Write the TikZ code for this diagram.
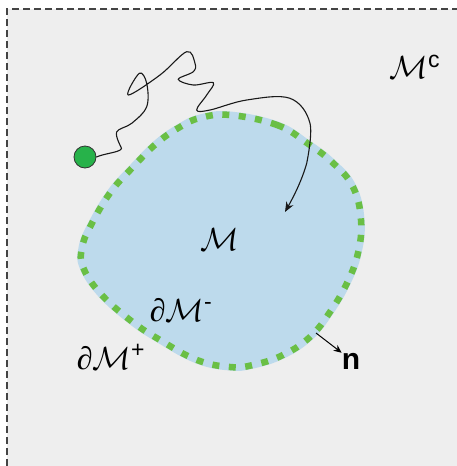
\RequirePackage{fix-cm}
\documentclass[tikz,border=0pt]{standalone}
\usepackage{fontspec}
\newfontfamily\arialf{Liberation Sans}
\newfontfamily\timesf{Liberation Serif}
\usetikzlibrary{arrows.meta}
\definecolor{bgray}{HTML}{EEEEEE}
\definecolor{blobblue}{HTML}{BDDAEC}
\definecolor{dashgreen}{HTML}{6ABF45}
\definecolor{dotgreen}{HTML}{27B24A}
\definecolor{frame}{HTML}{444444}
\newcommand{\supsf}[1]{\mbox{\arialf\fontsize{23}{23}\selectfont #1}}
\newcommand{\pd}{\mbox{\timesf ∂}}
\tikzset{
  lbl/.style={inner sep=0pt, font=\fontsize{32}{36}\selectfont},
  walk/.style={black!90, line width=1.1pt},
}
\begin{document}
\begin{tikzpicture}[x=1pt,y=-1pt]
\useasboundingbox (0,0) rectangle (457,466);
\fill[bgray] (7,9) rectangle (457,466);
\draw[frame, line width=1.2pt, dash pattern=on 7pt off 4pt] (7,466) -- (7,9) -- (457,9);
% region M
\def\blobpath{plot[smooth cycle, tension=0.7] coordinates {
 (230,115) (277,125) (307,143) (333,163) (353,187) (361,220) (358,253)
 (347,283) (330,312) (310,337) (283,355) (253,365) (230,367) (197,360)
 (160,340) (130,320) (100,293) (83,267) (82,248) (90,227) (110,193)
 (133,167) (157,143) (180,127) (200,118)}}
\fill[blobblue] \blobpath;
\draw[blobblue, line width=7pt] \blobpath;
\draw[dashgreen, line width=6.5pt, dash pattern=on 7pt off 9.5pt] \blobpath;
% particle
\node[circle, draw=black!80, fill=dotgreen, line width=0.8pt, minimum size=22pt, inner sep=0pt] (dot) at (85,157) {};
\coordinate (hit) at (285,212);
\draw[walk, -{Stealth[length=10pt,width=8pt]}] (dot.east) .. controls (105,153) and (125,152) .. (121,147)
  plot[smooth, tension=0.6] coordinates {(121,147) (116.7,132) (131.7,123.3) (146.7,106.7) (146.7,83.3) (139.3,73.3) (128.3,95) (160,75) (186.7,51.7) (195,63.3) (193.3,71.7) (178.3,79.3) (193.3,85) (213.3,82.7) (206.7,95) (196.7,110) (210,110) (246.7,100) (290,98.3) (310,123.3) (306.7,163.3)}
  .. controls (302,180) and (294,196) .. (hit);
% labels
\node[lbl] (M) at (220,240) {$\mathcal{M}$};
\node[lbl] (Mc) at (415,67) {$\mathcal{M}^{\supsf{c}}$};
\node[lbl] (dMm) at (181,310) {$\pd\mathcal{M}^{\supsf{-}}$};
\node[lbl] (dMp) at (111,357) {$\pd\mathcal{M}^{\supsf{+}}$};
\node[inner sep=0pt, font=\arialf\bfseries\fontsize{30}{32}\selectfont] (n) at (351,361) {n};
\coordinate (nstart) at (316,333);
\draw[black, line width=1pt, -{Stealth[length=8pt,width=7pt]}] (nstart) -- (n.north west);
\end{tikzpicture}
\end{document}
